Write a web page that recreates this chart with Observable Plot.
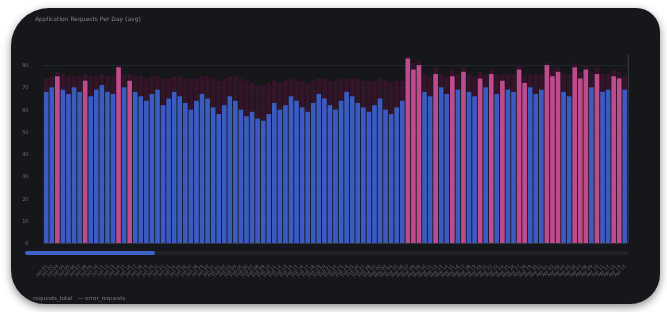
<!DOCTYPE html>
<html><head><meta charset="utf-8">
<script src="https://cdn.jsdelivr.net/npm/d3@7"></script>
<script src="https://cdn.jsdelivr.net/npm/@observablehq/plot@0.6"></script>
<style>
html,body{margin:0;padding:0;background:#ffffff;width:667px;height:312px;overflow:hidden;font-family:"DejaVu Sans",sans-serif}
#panel{position:absolute;left:11px;top:8px;width:649px;height:296px;background:#15171b;border-radius:38px 24px 30px 34px;box-shadow:0 3px 8px rgba(0,0,0,.45)}
#title{position:absolute;left:35px;top:15px;font-size:6px;color:#80848b;white-space:nowrap;filter:blur(0.5px)}
#chart{position:absolute;left:0;top:0;filter:blur(0.7px)}
#track{position:absolute;left:25px;top:251px;width:603px;height:4px;background:#1e2228}
#thumb{position:absolute;left:25px;top:251px;width:130px;height:4px;background:#3d63c6;border-radius:2px;filter:blur(0.5px)}
#legend{position:absolute;left:33px;top:295px;font-size:5.5px;color:#767a81;white-space:nowrap;filter:blur(0.5px)}
#legend span{margin-right:6px}
</style></head>
<body>
<div id="panel"></div>
<div id="title">Application Requests Per Day (avg)</div>
<div id="track"></div><div id="thumb"></div>
<div id="chart"></div>
<div id="legend"><span>requests_total</span><span>— error_requests</span></div>
<script>
// categories: 105 days
const startDay = "2023-01-01";
const endDay = "2023-04-16";
const labels = d3.utcDays(new Date(startDay), new Date(endDay)).map(d3.utcFormat("%b %d"));

// main series (blue / highlighted bars)
const mainValues = [
  68,70,75,69,67,70,68,73,66,69,71,68,67,79,70,73,68,66,
  64,67,69,62,65,68,66,63,60,64,67,65,61,58,62,66,64,60,57,59,
  56,55,58,63,60,62,66,64,61,59,63,67,65,62,60,64,68,66,63,61,59,62,65,60,58,61,64,
  83,78,80,68,66,76,70,67,75,69,
  77,68,66,74,70,76,67,73,69,68,
  78,72,70,67,69,80,75,77,68,66,
  79,74,78,70,76,68,69,75,74,69
];
// stacked upper segment
const upperValues = [
  6,5,2,7,8,5,7,3,9,6,5,7,8,1,6,3,7,9,
  10,8,6,12,9,7,9,11,14,10,8,10,13,15,12,9,11,14,16,13,
  15,16,14,10,12,11,8,9,12,13,10,7,9,11,13,10,6,8,11,12,14,11,9,13,14,12,9,
  1,3,2,8,9,3,6,8,3,7,
  2,8,9,3,6,2,9,3,7,8,
  2,3,6,9,7,1,3,2,8,10,
  2,3,2,7,3,8,7,3,3,6
];
// categories shown as highlighted (pink) bars
const highlighted = [2,7,13,15,65,66,67,70,73,75,78,80,82,85,86,90,91,92,95,96,97,99,102,103];
const yTicks = [0,10,20,30,40,50,60,70,80];

const BLUE = "#3c5bc0", PINK = "#bf4a8e", MAROON = "#341428";
const rows = labels.map((label, i) => ({
  label,
  main: mainValues[i],
  top: mainValues[i] + upperValues[i],
  hl: highlighted.includes(i)
}));

const chart = Plot.plot({
  width: 667,
  height: 312,
  marginLeft: 43,
  marginRight: 39,
  marginTop: 54,
  marginBottom: 69,
  style: {background: "transparent", color: "#6a6e75", fontFamily: "DejaVu Sans, sans-serif"},
  x: {type: "band", domain: labels, padding: 0.16},
  y: {domain: [0, 85]},
  color: {type: "identity"},
  marks: [
    Plot.gridY(yTicks, {stroke: "#2b2f36", strokeOpacity: 1, strokeWidth: 0.7}),
    Plot.barY(rows, {x: "label", y1: "main", y2: "top", fill: MAROON}),
    Plot.barY(rows, {x: "label", y1: 0, y2: "main", fill: d => d.hl ? PINK : BLUE}),
    Plot.ruleY([0], {stroke: "#30343b"}),
    Plot.ruleX([labels[labels.length - 1]], {stroke: "#3a3e45", dx: 3, y1: 0, y2: 85}),
    Plot.axisY(yTicks, {tickSize: 0, tickPadding: 15, fontSize: 5, fill: "#6a6e75", label: null}),
    Plot.axisX({tickSize: 0, tickPadding: 22, fontSize: 4.5, tickRotate: -45, fill: "#5f636a", label: null})
  ]
});
document.getElementById("chart").appendChild(chart);
</script>
</body></html>
